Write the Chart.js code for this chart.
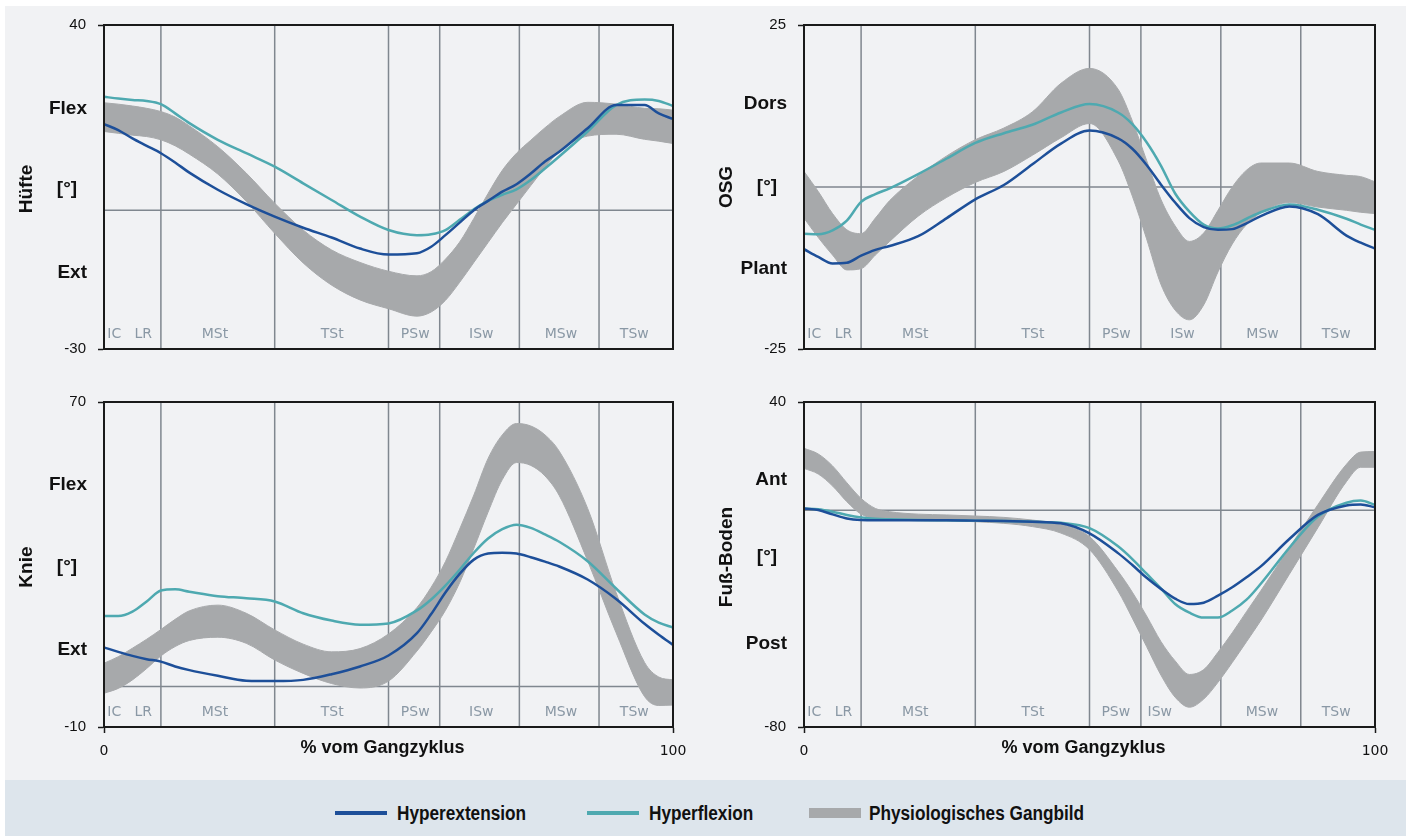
<!DOCTYPE html>
<html>
<head>
<meta charset="utf-8">
<script src="https://cdn.jsdelivr.net/npm/chart.js@4.4.1/dist/chart.umd.min.js"></script>
<style>
  body { margin: 0; background: #fff; width: 1411px; height: 836px; overflow: hidden; position: relative; }
  #bg { position: absolute; left: 5px; top: 6px; width: 1401px; height: 774px; background: #f1f2f4; }
  canvas { position: absolute; }
  #legend { position: absolute; left: 5px; top: 780px; width: 1401px; height: 56px; background: #dde5ec; }
  #legend .sw { position: absolute; }
  #legend .txt { position: absolute; top: 22px; line-height: 22px; font: bold 20px "Liberation Sans", Arial, sans-serif;
                 color: #111; transform: scaleX(0.86); transform-origin: left center; white-space: nowrap; }
</style>
</head>
<body>
<div id="bg"></div>
<canvas id="hip" width="700" height="380" style="left:0;top:0"></canvas>
<canvas id="osg" width="711" height="380" style="left:700px;top:0"></canvas>
<canvas id="knee" width="700" height="380" style="left:0;top:380px"></canvas>
<canvas id="foot" width="711" height="380" style="left:700px;top:380px"></canvas>
<div id="legend">
  <span class="sw" style="left:330px;top:31px;width:52px;height:4px;background:#1d4f99"></span>
  <span class="txt" style="left:392px">Hyperextension</span>
  <span class="sw" style="left:582px;top:31px;width:52px;height:4px;background:#4ea9b0"></span>
  <span class="txt" style="left:644px">Hyperflexion</span>
  <span class="sw" style="left:804px;top:28px;width:52px;height:10px;background:#a7a9ab"></span>
  <span class="txt" style="left:864px">Physiologisches Gangbild</span>
</div>
<script>
// % of gait cycle where the curves were read
const pct = [0, 2.5, 5, 7.5, 10, 12.5, 15, 20, 25, 30, 35, 40, 45, 50, 55, 57.5, 60, 62.5, 65, 67.5, 70, 72.5, 75, 77.5, 80, 85, 90, 95, 97.5, 100];

const phaseNames = ['IC', 'LR', 'MSt', 'TSt', 'PSw', 'ISw', 'MSw', 'TSw'];
const phaseBounds = [10, 30, 50, 59, 73, 87];

// Hüfte
const hipExt  = [18.6, 17.3, 15.5, 13.9, 12.3, 10.3, 8.1, 4.4, 1.3, -1.4, -3.8, -5.9, -8.3, -9.6, -9.3, -7.9, -5.4, -2.7, 0.0, 2.0, 4.0, 5.6, 7.9, 10.5, 12.6, 17.7, 22.7, 22.7, 20.9, 19.7];
const hipFlex = [24.5, 24.1, 23.8, 23.6, 22.9, 20.9, 18.8, 15.2, 12.3, 9.4, 5.8, 2.2, -1.4, -4.3, -5.4, -5.2, -4.3, -2.1, 0.2, 2.0, 3.3, 4.5, 6.5, 9.0, 11.6, 17.0, 22.7, 23.9, 23.6, 22.5];
const hipTop  = [23.2, 22.9, 22.5, 22.0, 21.3, 20.1, 18.2, 13.7, 8.0, 1.5, -4.3, -8.6, -11.3, -13.2, -14.2, -13.3, -10.6, -6.9, -1.8, 3.6, 8.6, 12.3, 15.1, 17.8, 20.2, 23.3, 22.9, 22.0, 21.9, 21.6];
const hipBot  = [17.0, 16.6, 16.2, 15.9, 15.2, 13.9, 12.1, 7.8, 1.9, -5.0, -11.4, -16.2, -19.4, -21.3, -22.9, -22.0, -19.5, -15.6, -11.3, -7.0, -2.7, 1.3, 5.3, 9.2, 12.7, 16.0, 16.4, 15.3, 14.9, 14.4];

// OSG
const osgExt  = [-9.6, -10.8, -11.8, -11.7, -10.6, -9.7, -9.1, -7.6, -4.8, -1.9, 0.3, 3.5, 6.7, 8.7, 7.5, 5.9, 3.4, 0.4, -2.4, -4.8, -6.2, -6.6, -6.5, -5.6, -4.5, -3.0, -4.2, -7.5, -8.6, -9.5];
const osgFlex = [-7.2, -7.3, -6.7, -5.2, -2.3, -1.1, -0.2, 2.0, 4.4, 6.8, 8.3, 9.6, 11.5, 12.8, 11.5, 9.7, 6.9, 3.3, -1.0, -3.8, -5.8, -6.4, -5.9, -4.9, -3.9, -2.7, -3.5, -4.9, -5.8, -6.6];
const osgTop  = [2.4, -0.7, -4.1, -6.6, -7.2, -4.8, -2.1, 1.7, 4.8, 7.3, 9.1, 11.6, 16.0, 18.3, 15.1, 10.2, 4.1, -1.9, -6.0, -8.4, -7.1, -3.6, 0.0, 2.6, 3.7, 3.7, 2.4, 1.8, 1.6, 0.8];
const osgBot  = [-4.8, -7.8, -10.5, -12.8, -12.6, -10.5, -8.4, -4.5, -1.6, 0.7, 2.4, 4.9, 7.6, 9.8, 4.1, -1.4, -8.0, -15.0, -19.0, -20.5, -18.2, -13.1, -8.8, -5.8, -4.0, -2.4, -3.1, -3.6, -3.9, -4.1];

// Knie
const kneeExt  = [9.6, 8.5, 7.5, 6.7, 6.1, 4.9, 4.0, 2.6, 1.4, 1.3, 1.6, 3.0, 4.9, 7.6, 13.1, 17.8, 23.1, 27.7, 31.2, 32.7, 32.9, 32.7, 31.8, 30.7, 29.5, 26.3, 21.5, 15.4, 12.7, 10.2];
const kneeFlex = [17.3, 17.3, 18.4, 20.9, 23.6, 23.9, 23.3, 22.2, 21.7, 20.9, 18.0, 16.2, 15.2, 15.5, 18.7, 21.4, 24.8, 28.7, 32.9, 36.4, 38.7, 39.8, 39.0, 37.4, 35.6, 30.8, 24.1, 17.7, 15.7, 14.5];
const kneeTop  = [5.7, 7.3, 9.4, 11.6, 14.0, 16.5, 18.6, 20.0, 18.0, 13.9, 10.4, 8.5, 9.3, 12.9, 19.4, 24.4, 30.7, 38.7, 47.1, 56.1, 61.9, 64.7, 64.1, 61.9, 57.9, 43.8, 23.1, 5.9, 2.3, 1.6];
const kneeBot  = [-1.7, -0.5, 1.6, 4.4, 7.5, 9.8, 11.3, 12.1, 10.6, 6.5, 3.2, 0.7, -0.4, 1.3, 8.7, 13.4, 18.7, 25.5, 34.0, 42.9, 50.9, 55.1, 54.4, 51.8, 47.0, 30.9, 13.2, -2.5, -4.7, -4.6];

// Fuß-Boden
const footExt  = [0.7, 0.1, -1.5, -3.0, -3.6, -3.7, -3.7, -3.7, -3.7, -3.8, -3.9, -4.2, -4.8, -8.5, -15.8, -20.2, -24.9, -29.0, -32.6, -34.6, -34.1, -31.5, -28.4, -24.7, -20.7, -10.6, -1.7, 1.8, 2.2, 1.1];
const footFlex = [0.7, 0.4, -0.5, -1.7, -2.6, -3.1, -3.3, -3.6, -3.7, -3.8, -3.9, -4.2, -4.6, -6.6, -13.3, -18.0, -23.4, -28.8, -34.6, -37.8, -39.6, -39.6, -37.0, -33.0, -27.1, -13.8, -2.3, 2.8, 3.6, 2.0];
const footTop  = [22.9, 20.8, 16.4, 10.2, 4.4, 0.7, -0.5, -1.4, -1.7, -2.1, -2.6, -3.6, -5.2, -9.7, -22.5, -30.2, -39.0, -48.4, -55.6, -60.6, -58.8, -52.4, -45.2, -37.4, -29.7, -13.8, 2.1, 17.0, 21.5, 21.7];
const footBot  = [15.5, 13.4, 9.0, 3.2, -1.4, -3.0, -3.6, -3.8, -3.9, -4.2, -4.8, -6.0, -8.4, -14.5, -29.8, -39.8, -50.3, -60.8, -69.0, -72.7, -69.7, -63.5, -56.2, -48.5, -40.7, -23.6, -6.4, 10.6, 15.9, 15.9];

const BLUE = '#1d4f99';
const TEAL = '#4ea9b0';
const GREY = '#a7a9ab';

Chart.defaults.animation = false;
Chart.defaults.font.family = '"Liberation Sans", Arial, sans-serif';

function pts(arr) {
  return pct.map((p, i) => ({ x: p, y: arr[i] }));
}

const decor = {
  id: 'decor',
  beforeDatasetsDraw(chart, args, o) {
    const { ctx, chartArea: a, scales: { x, y } } = chart;
    ctx.save();
    ctx.strokeStyle = '#80878f';
    ctx.lineWidth = 1.5;
    ctx.beginPath();
    phaseBounds.forEach(p => {
      const px = x.getPixelForValue(p);
      ctx.moveTo(px, a.top);
      ctx.lineTo(px, a.bottom);
    });
    const zy = y.getPixelForValue(0);
    ctx.moveTo(a.left, zy);
    ctx.lineTo(a.right, zy);
    ctx.stroke();

    ctx.fillStyle = '#8a98a5';
    ctx.font = '14px "DejaVu Sans"';
    ctx.textAlign = 'center';
    ctx.textBaseline = 'middle';
    phaseNames.forEach((n, i) => {
      ctx.fillText(n, x.getPixelForValue(o.phaseAt[i]), a.bottom - 15);
    });
    ctx.restore();
  },
  afterDraw(chart, args, o) {
    const { ctx, chartArea: a } = chart;
    const h = a.bottom - a.top;
    ctx.save();
    ctx.strokeStyle = '#1a1a1a';
    ctx.lineWidth = 2;
    ctx.strokeRect(a.left, a.top, a.right - a.left, h);

    ctx.fillStyle = '#111';
    ctx.font = 'bold 19px "Liberation Sans"';
    ctx.textBaseline = 'middle';
    ctx.textAlign = 'right';
    ctx.fillText(o.upper, a.left - 17, a.top + o.labelY[0] * h);
    ctx.fillText(o.lower, a.left - 17, a.top + o.labelY[2] * h);
    ctx.textAlign = 'center';
    ctx.fillText('[°]', a.left - 37, a.top + o.labelY[1] * h);

    ctx.save();
    ctx.translate(a.left - 77, a.top + o.labelY[1] * h);
    ctx.rotate(-Math.PI / 2);
    ctx.fillText(o.title, 0, 0);
    ctx.restore();

    if (o.xTitle) {
      ctx.font = 'bold 18px "Liberation Sans"';
      ctx.fillText('% vom Gangzyklus', (a.left + a.right) / 2 - 6, a.bottom + 21);
    }
    ctx.restore();
  }
};

function makePanel(id, ext, flex, top, bot, yMin, yMax, dec, bottomRow) {
  const padTop = bottomRow ? 22 : 25;
  const xh = bottomRow ? 33 : 31;
  const padRight = id === 'osg' || id === 'foot' ? 36 : 27;
  const lineDs = (data, color, label) => ({
    label, data: pts(data), borderColor: color, borderWidth: 2.5,
    pointRadius: 0, fill: false, cubicInterpolationMode: 'monotone'
  });
  new Chart(document.getElementById(id), {
    type: 'line',
    data: {
      datasets: [
        lineDs(ext, BLUE, 'Hyperextension'),
        lineDs(flex, TEAL, 'Hyperflexion'),
        { label: 'Physiologisches Gangbild', data: pts(top), borderColor: GREY, borderWidth: 1,
          backgroundColor: GREY, pointRadius: 0, fill: '+1', cubicInterpolationMode: 'monotone' },
        { label: 'band', data: pts(bot), borderColor: GREY, borderWidth: 1,
          pointRadius: 0, fill: false, cubicInterpolationMode: 'monotone' }
      ]
    },
    options: {
      responsive: false,
      devicePixelRatio: 1,
      layout: { padding: { left: 0, top: padTop, right: padRight, bottom: 0 } },
      plugins: { legend: { display: false }, tooltip: { enabled: false }, decor: dec },
      scales: {
        x: {
          type: 'linear', min: 0, max: 100,
          afterBuildTicks: s => { s.ticks = [{ value: 0 }, { value: 100 }]; },
          afterFit: s => { s.height = xh; },
          grid: { drawOnChartArea: false, drawTicks: bottomRow, tickLength: 6, tickColor: '#1a1a1a', tickWidth: 1.5 },
          border: { display: true, color: '#1a1a1a', width: 2 },
          ticks: { display: bottomRow, padding: 10, maxRotation: 0, color: '#111',
                   font: { family: '"DejaVu Sans"', size: 14 } }
        },
        y: {
          min: yMin, max: yMax,
          afterBuildTicks: s => { s.ticks = [{ value: yMin }, { value: yMax }]; },
          afterFit: s => { s.width = 104; },
          grid: { drawOnChartArea: false, tickLength: 6, tickColor: '#1a1a1a', tickWidth: 1.5 },
          border: { display: true, color: '#1a1a1a', width: 2 },
          ticks: { padding: 12, color: '#111', font: { size: 15 } }
        }
      }
    },
    plugins: [decor]
  });
}

const phaseAtStd  = [1.8, 6.9, 19.5, 40.1, 54.7, 66.3, 80.3, 93.2];
const phaseAtFoot = [1.8, 6.9, 19.5, 40.1, 54.6, 62.3, 80.2, 93.2];

makePanel('hip', hipExt, hipFlex, hipTop, hipBot, -30, 40,
  { title: 'Hüfte', upper: 'Flex', lower: 'Ext', labelY: [0.257, 0.506, 0.765], phaseAt: phaseAtStd, xTitle: false }, false);
makePanel('osg', osgExt, osgFlex, osgTop, osgBot, -25, 25,
  { title: 'OSG', upper: 'Dors', lower: 'Plant', labelY: [0.244, 0.5, 0.753], phaseAt: phaseAtStd, xTitle: false }, false);
makePanel('knee', kneeExt, kneeFlex, kneeTop, kneeBot, -10, 70,
  { title: 'Knie', upper: 'Flex', lower: 'Ext', labelY: [0.255, 0.508, 0.763], phaseAt: phaseAtStd, xTitle: true }, true);
makePanel('foot', footExt, footFlex, footTop, footBot, -80, 40,
  { title: 'Fuß-Boden', upper: 'Ant', lower: 'Post', labelY: [0.24, 0.477, 0.744], phaseAt: phaseAtFoot, xTitle: true }, true);
</script>
</body>
</html>
